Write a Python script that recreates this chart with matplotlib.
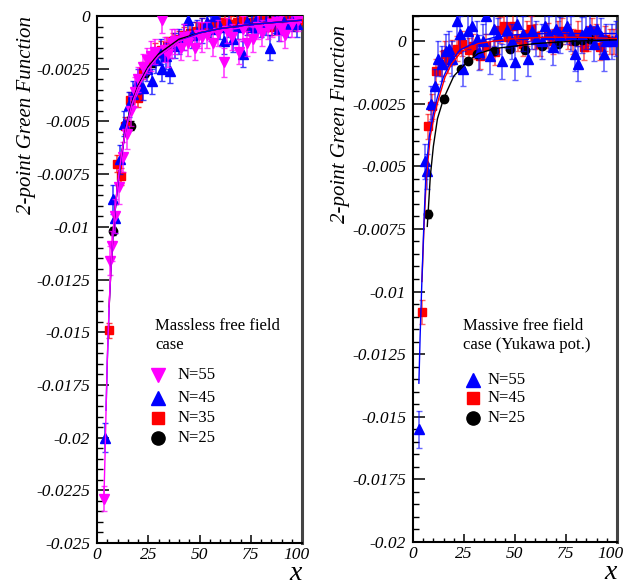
import matplotlib
matplotlib.use('Agg')
import matplotlib.pyplot as plt
import matplotlib.transforms as mtransforms
from matplotlib.ticker import MultipleLocator, FuncFormatter

plt.rcParams['font.family'] = ['Liberation Serif', 'DejaVu Serif']

# ---------------- Left panel: massless free field ----------------
x_l55 = [3.6, 6.3, 7.5, 9.0, 10.7, 12.5, 14.6, 16.6, 18.5, 20.0, 22.4, 24.4, 26.5, 28.5, 31.5,
         33.0, 34.6, 36.5, 38.0, 41.0, 42.5, 44.5, 47.8, 49.5, 51.0, 53.5, 56.6, 59.0, 61.8, 63.5,
         65.7, 69.3, 71.0, 73.0, 76.2, 78.5, 80.3, 83.5, 85.5, 87.6, 89.5, 91.7, 95.0, 98.0]
y_l55 = [-0.0229, -0.0116, -0.0109, -0.0095, -0.0081, -0.0067, -0.0056, -0.0045, -0.0036, -0.0030,
         -0.0024, -0.0021, -0.0019, -0.0017, -0.0002, -0.0016, -0.0018, -0.0013, -0.0012, -0.0015,
         -0.0010, -0.0013, -0.0015, -0.0009, -0.0010, -0.0009, -0.0013, -0.0008, -0.0022, -0.0007,
         -0.0010, -0.0017, -0.0006, -0.0013, -0.0011, -0.0005, -0.0008, -0.0005, -0.0004, -0.0003,
         -0.0006, -0.0009, -0.0004, -0.0002]
e_l55 = [0.0006, 0.0007, 0.0007, 0.0008, 0.0008, 0.0007, 0.0007, 0.0007, 0.0007, 0.0006,
         0.0006, 0.0006, 0.0007, 0.0006, 0.0006, 0.0006, 0.0006, 0.0007, 0.0006, 0.0006,
         0.0006, 0.0006, 0.0006, 0.0006, 0.0007, 0.0006, 0.0006, 0.0006, 0.0007, 0.0006,
         0.0006, 0.0006, 0.0006, 0.0006, 0.0006, 0.0006, 0.0006, 0.0006, 0.0006, 0.0006,
         0.0006, 0.0006, 0.0006, 0.0005]

x_l45 = [3.9, 7.6, 8.8, 11.0, 13.2, 15.5, 17.7, 20.0, 22.4, 24.5, 26.7, 28.9, 31.0, 31.5, 33.5,
         35.8, 38.0, 40.0, 42.2, 44.4, 46.5, 48.8, 51.0, 53.5, 55.5, 57.6, 60.0, 62.0, 64.4, 66.5,
         68.8, 71.0, 73.2, 75.5, 77.7, 80.0, 82.2, 84.4, 86.6, 88.8, 91.0, 93.2, 95.5, 97.7]
y_l45 = [-0.0200, -0.0087, -0.0096, -0.0068, -0.0051, -0.0042, -0.0037, -0.0031, -0.0034, -0.0025,
         -0.0031, -0.0021, -0.0017, -0.0025, -0.0019, -0.0026, -0.0014, -0.0012, -0.0010, -0.0002,
         -0.0009, -0.0008, -0.0007, -0.0003, -0.0006, 0.0000, -0.0005, -0.0012, -0.0004, -0.0011,
         -0.0005, -0.0018, -0.0003, -0.0005, -0.0002, -0.0004, -0.0003, -0.0015, -0.0002, -0.0006,
         -0.0003, -0.0004, -0.0001, -0.0004]
e_l45 = [0.00068, 0.0007, 0.0007, 0.0007, 0.0006, 0.0006, 0.0006, 0.0006, 0.0006, 0.0006,
         0.0006, 0.0006, 0.0006, 0.0006, 0.0006, 0.0006, 0.0006, 0.0006, 0.0006, 0.0006,
         0.0006, 0.0006, 0.0006, 0.0006, 0.0006, 0.0006, 0.0006, 0.0006, 0.0006, 0.0006,
         0.0006, 0.0006, 0.0006, 0.0006, 0.0006, 0.0006, 0.0006, 0.0006, 0.0006, 0.0006,
         0.0006, 0.0006, 0.0006, 0.0006]

x_l35 = [5.9, 9.6, 11.6, 13.5, 16.2, 19.8, 22.6, 25.5, 28.3, 31.2, 34.0, 37.0, 39.8, 42.6, 45.4,
         48.3, 51.2, 54.0, 56.8, 59.6, 62.5, 65.4, 68.2, 71.0, 73.8, 76.7, 79.5, 82.3, 85.2, 88.0,
         90.8, 93.7, 96.5, 99.4]
y_l35 = [-0.0149, -0.0070, -0.0076, -0.0052, -0.0040, -0.0039, -0.0026, -0.0021, -0.0017, -0.0016,
         -0.0014, -0.0012, -0.0011, -0.0009, -0.0008, -0.0007, -0.0005, -0.0006, -0.0004, -0.0003,
         -0.0003, -0.0004, -0.0003, -0.0002, -0.0005, -0.0003, -0.0001, -0.0003, -0.0005, -0.0002,
         -0.0004, -0.0002, -0.0003, -0.0002]
e_l35 = [0.00036, 0.0004, 0.0004, 0.0004, 0.0004, 0.0004, 0.0004, 0.0004, 0.0004, 0.0004,
         0.0004, 0.0004, 0.0004, 0.0004, 0.0004, 0.0004, 0.0004, 0.0004, 0.0004, 0.0004,
         0.0004, 0.0004, 0.0004, 0.0004, 0.0004, 0.0004, 0.0004, 0.0004, 0.0004, 0.0004,
         0.0004, 0.0004, 0.0004, 0.0004]

x_l25 = [7.8, 14.1, 16.4, 19.5, 23.4, 27.5, 31.5, 35.5, 39.5, 43.5, 47.5, 51.5, 55.5, 59.5, 63.5,
         67.5, 71.5, 75.5, 79.5, 83.5, 87.5, 91.5, 95.5, 99.5]
y_l25 = [-0.0102, -0.0051, -0.0052, -0.0036, -0.0027, -0.0022, -0.0017, -0.0014, -0.0012, -0.0010,
         -0.0008, -0.0007, -0.0005, -0.0005, -0.0004, -0.0004, -0.0003, -0.0003, -0.0003, -0.0002,
         -0.0002, -0.0002, -0.0001, -0.0001]
e_l25 = [0.0002, 0.0002, 0.0002, 0.0002, 0.0002, 0.0002, 0.0002, 0.0002, 0.0002, 0.0002,
         0.0002, 0.0002, 0.0002, 0.0002, 0.0002, 0.0002, 0.0002, 0.0002, 0.0002, 0.0002,
         0.0002, 0.0002, 0.0002, 0.0002]

# fitted curves
cx_l55 = [3.3, 4.0, 4.4, 5.0, 6.0, 7.0, 8.0, 10, 12, 14, 17, 20, 25, 30, 40, 50, 60, 75, 100]
cy_l55 = [-0.0231, -0.0205, -0.0187, -0.0163, -0.0135, -0.0115, -0.0100, -0.0080, -0.0065, -0.0054,
          -0.0042, -0.0034, -0.0025, -0.0019, -0.0012, -0.0009, -0.0007, -0.0005, -0.0003]
cx_l45 = [4.4, 5.0, 6.0, 7.0, 8.0, 10, 12, 14, 17, 20, 25, 30, 40, 50, 60, 75, 100]
cy_l45 = [-0.0187, -0.0164, -0.0136, -0.0116, -0.0101, -0.0081, -0.0066, -0.0054, -0.0042, -0.0034,
          -0.0025, -0.0019, -0.0012, -0.0008, -0.0006, -0.0004, -0.0002]
cx_l35 = [5.9, 7.0, 8.0, 10, 12, 14, 17, 20, 25, 30, 40, 50, 60, 75, 100]
cy_l35 = [-0.0138, -0.0116, -0.0101, -0.0080, -0.0066, -0.0054, -0.0042, -0.0034, -0.0025, -0.0019,
          -0.0012, -0.0008, -0.0006, -0.0004, -0.0002]
cx_l25 = [7.8, 10, 12, 14, 17, 20, 25, 30, 40, 50, 60, 75, 100]
cy_l25 = [-0.0103, -0.0080, -0.0065, -0.0053, -0.0041, -0.0033, -0.0024, -0.0018, -0.0011, -0.0008,
          -0.0006, -0.0004, -0.0002]

# ---------------- Right panel: massive free field ----------------
x_r55 = [2.9, 5.9, 6.9, 8.6, 10.6, 12.5, 14.2, 16.0, 17.6, 19.3, 21.5, 23.0, 24.5, 27.0, 29.0,
         31.3, 32.4, 34.5, 36.0, 37.7, 39.5, 41.5, 43.6, 46.0, 48.5, 50.0, 51.0, 54.0, 56.4, 58.3,
         60.5, 63.0, 64.7, 66.5, 68.6, 70.0, 72.0, 75.5, 77.5, 79.5, 81.0, 83.0, 85.0, 87.0, 88.5,
         90.0, 92.0, 93.6, 94.6, 97.5, 99.5]
y_r55 = [-0.0155, -0.0048, -0.0052, -0.0025, -0.0018, -0.0007, -0.0009, -0.0004, -0.0003, -0.0007,
         0.0008, 0.0003, -0.0011, 0.0004, 0.0006, 0.0001, -0.00044, 0.0000, 0.0010, -0.0006,
         0.0005, 0.0002, -0.0008, 0.00044, 0.0000, -0.00084, 0.0007, 0.0003, -0.0007, 0.0004,
         0.0001, 0.0000, 0.0006, 0.0003, -0.00024, 0.0005, 0.00024, 0.0006, 0.0003, -0.0005,
         -0.0009, 0.00024, 0.0004, 0.0005, -0.0001, 0.0005, 0.0002, -0.0005, 0.0000, 0.0000,
         0.0001]
e_r55 = [0.00075, 0.0007, 0.0007, 0.0007, 0.0007, 0.0007, 0.0007, 0.0007, 0.0007, 0.0007,
         0.0007, 0.0007, 0.0007, 0.0007, 0.0007, 0.0007, 0.0007, 0.0007, 0.0007, 0.0007,
         0.0007, 0.0007, 0.0007, 0.0007, 0.0007, 0.0007, 0.0007, 0.0007, 0.0007, 0.0007,
         0.0007, 0.0007, 0.0007, 0.0007, 0.0007, 0.0007, 0.0007, 0.0007, 0.0007, 0.0007,
         0.0007, 0.0007, 0.0007, 0.0007, 0.0007, 0.0007, 0.0007, 0.0007, 0.0007, 0.0007,
         0.0007]

x_r45 = [4.4, 7.4, 9.3, 11.5, 14.2, 15.7, 17.0, 19.0, 21.5, 24.0, 27.5, 29.5, 33.0, 36.0, 40.0,
         42.6, 44.5, 46.6, 49.0, 51.5, 54.0, 56.0, 58.0, 60.0, 62.5, 66.0, 68.5, 71.0, 73.0, 76.0,
         78.5, 81.0, 84.0, 86.0, 87.7, 89.5, 91.7, 94.0, 96.6, 98.5]
y_r45 = [-0.0108, -0.0034, -0.0026, -0.0012, -0.0009, -0.0005, -0.00076, -0.00044, -0.0003, -0.0001,
         -0.00036, -0.0002, -0.0006, -0.0002, -0.00044, 0.00044, 0.0006, 0.00016, 0.0006, 0.0001,
         -0.0001, 0.0003, 0.0005, 0.0002, -0.0001, 0.00024, 0.0000, 0.0003, 0.0004, 0.0002,
         0.0000, 0.0003, -0.00024, 0.0001, 0.0004, 0.0002, -0.00024, 0.0001, 0.0000, 0.0000]
e_r45 = [0.00048, 0.0005, 0.0005, 0.0005, 0.0005, 0.0005, 0.0005, 0.0005, 0.0005, 0.0005,
         0.0005, 0.0005, 0.0005, 0.0005, 0.0005, 0.0005, 0.0005, 0.0005, 0.0005, 0.0005,
         0.0005, 0.0005, 0.0005, 0.0005, 0.0005, 0.0005, 0.0005, 0.0005, 0.0005, 0.0005,
         0.0005, 0.0005, 0.0005, 0.0005, 0.0005, 0.0005, 0.0005, 0.0005, 0.0005, 0.0005]

x_r25 = [7.4, 15.0, 23.5, 27.0, 31.5, 39.5, 47.5, 55.0, 63.0, 71.0, 79.5, 83.0, 87.0, 95.0]
y_r25 = [-0.0069, -0.0023, -0.0011, -0.0008, -0.0005, -0.0004, -0.0003, -0.00036, -0.0002, -0.0001,
         0.0000, 0.00004, 0.0001, 0.0000]
e_r25 = [0.00015, 0.00015, 0.00012, 0.00012, 0.00012, 0.00012, 0.00012, 0.00012, 0.00012, 0.00012,
         0.00012, 0.00012, 0.00012, 0.00012]

cx_r55 = [2.9, 3.5, 4.4, 5.4, 6.4, 8, 10, 11.8, 14.9, 18, 23, 31, 40, 50, 65, 80, 100]
cy_r55 = [-0.01366, -0.0118, -0.0095, -0.0072, -0.0052, -0.0038, -0.0029, -0.0023, -0.00144, -0.0009,
          -0.00036, -0.00004, 0.00015, 0.00025, 0.0003, 0.0003, 0.0003]
cx_r45 = [4.4, 5.4, 6.6, 8.5, 10.6, 12.6, 15.7, 19, 24, 32, 40, 50, 65, 80, 100]
cy_r45 = [-0.0096, -0.0074, -0.0054, -0.0038, -0.0029, -0.0023, -0.00144, -0.0009, -0.0004, -0.0001,
          0.0000, 0.0001, 0.00015, 0.00015, 0.0001]
cx_r25 = [7.0, 7.4, 8.5, 10, 12, 15, 20, 23.5, 27, 32, 40, 50, 60, 80, 100]
cy_r25 = [-0.0074, -0.0069, -0.0054, -0.0042, -0.0031, -0.0023, -0.0014, -0.0011, -0.0008, -0.0005,
          -0.0003, -0.0002, -0.0001, 0.0000, 0.00005]

x_ticks = [0, 25, 50, 75, 100]
x_tick_labels = ['0', '25', '50', '75', '100']

MAGENTA = '#ff00ff'
BLUE = '#0000ff'
RED = '#ff0000'
BLACK = '#000000'

fig = plt.figure(figsize=(6.26, 5.88), dpi=100)
axL = fig.add_axes([0.155, 0.0765, 0.3275, 0.8963])
axR = fig.add_axes([0.6597, 0.0782, 0.3259, 0.8946])


def series(ax, x, y, e, color, marker, ms, z, bar_alpha=0.75):
    line, caps, bars = ax.errorbar(x, y, yerr=e, fmt=marker, color=color, ms=ms, mec=color,
                                   ecolor=color, elinewidth=1.2, capsize=2.5, capthick=1.0,
                                   zorder=z)
    for c in caps:
        c.set_alpha(bar_alpha)
    for b in bars:
        b.set_alpha(bar_alpha)


def fmt(v, pos):
    v = round(v, 6)
    if abs(v) < 1e-12:
        return '0'
    return '%g' % v


def style(ax, ylim, ytext, ylab_y):
    ax.set_xlim(0, 100)
    ax.set_ylim(*ylim)
    ax.set_xticks(x_ticks)
    ax.set_xticklabels(x_tick_labels, fontstyle='italic')
    ax.xaxis.set_minor_locator(MultipleLocator(5))
    ax.yaxis.set_major_locator(MultipleLocator(0.0025))
    ax.yaxis.set_minor_locator(MultipleLocator(0.0005))
    ax.yaxis.set_major_formatter(FuncFormatter(fmt))
    ax.tick_params(axis='y', which='major', direction='in', length=8.5, width=1.1,
                   labelsize=12.5, pad=5, right=False)
    ax.tick_params(axis='y', which='minor', direction='in', length=4.5, width=1.0, right=False)
    ax.tick_params(axis='x', which='major', direction='in', length=6, width=1.1,
                   labelsize=12.5, pad=3, top=False)
    ax.tick_params(axis='x', which='minor', direction='in', length=3, width=1.0, top=False)
    for s in ['left', 'bottom', 'top']:
        ax.spines[s].set_linewidth(1.5)
        ax.spines[s].set_color('black')
    ax.spines['right'].set_linewidth(2.2)
    ax.spines['right'].set_color('#444444')
    ax.set_ylabel(ytext, fontsize=15, fontstyle='italic', loc='top')
    ax.yaxis.set_label_coords(ylab_y[0], ylab_y[1])
    ax.set_xlabel('x', fontsize=20, fontstyle='italic', loc='right')
    ax.xaxis.set_label_coords(1.0, -0.034)


# Left panel
series(axL, x_l25, y_l25, e_l25, BLACK, 'o', 6.0, 3, 1.0)
series(axL, x_l35, y_l35, e_l35, RED, 's', 6.0, 4)
series(axL, x_l45, y_l45, e_l45, BLUE, '^', 6.5, 5)
series(axL, x_l55, y_l55, e_l55, MAGENTA, 'v', 6.5, 6)
axL.plot(cx_l25, cy_l25, color=BLACK, lw=1.0, zorder=7)
axL.plot(cx_l35, cy_l35, color=RED, lw=1.0, zorder=7)
axL.plot(cx_l45, cy_l45, color=BLUE, lw=1.0, zorder=7)
axL.plot(cx_l55, cy_l55, color=MAGENTA, lw=1.0, zorder=7)
style(axL, (-0.025, 0.0), '2-point Green Function', (-0.298, 1.0))

# Right panel
series(axR, x_r45, y_r45, e_r45, RED, 's', 6.0, 3, 0.6)
series(axR, x_r25, y_r25, e_r25, BLACK, 'o', 6.0, 4, 1.0)
series(axR, x_r55, y_r55, e_r55, BLUE, '^', 6.5, 5, 0.6)
axR.plot(cx_r25, cy_r25, color=BLACK, lw=1.0, zorder=7)
axR.plot(cx_r45, cy_r45, color=RED, lw=1.0, zorder=7)
axR.plot(cx_r55, cy_r55, color=BLUE, lw=1.0, zorder=7)
style(axR, (-0.02, 0.001), '2-point Green Function', (-0.309, 0.983))

# legends (drawn by hand, ROOT style)
leg_L = [('N=55', MAGENTA, 'v', 10), ('N=45', BLUE, '^', 10), ('N=35', RED, 's', 9),
         ('N=25', BLACK, 'o', 9.5)]
leg_L_y = [0.319, 0.275, 0.237, 0.199]
axL.text(0.283, 0.427, 'Massless free field\ncase', transform=axL.transAxes, fontsize=12,
         va='top', ha='left', linespacing=1.25)
for (lab, c, m, ms), yy in zip(leg_L, leg_L_y):
    axL.plot([0.298], [yy], marker=m, color=c, ms=ms, transform=axL.transAxes, clip_on=False,
             ls='none')
    axL.text(0.395, yy, lab, transform=axL.transAxes, fontsize=12, va='center', ha='left')

leg_R = [('N=55', BLUE, '^', 10), ('N=45', RED, 's', 9), ('N=25', BLACK, 'o', 9.5)]
leg_R_y = [0.308, 0.274, 0.236]
axR.text(0.245, 0.426, 'Massive free field\ncase (Yukawa pot.)', transform=axR.transAxes,
         fontsize=12, va='top', ha='left', linespacing=1.25)
for (lab, c, m, ms), yy in zip(leg_R, leg_R_y):
    axR.plot([0.294], [yy], marker=m, color=c, ms=ms, transform=axR.transAxes, clip_on=False,
             ls='none')
    axR.text(0.363, yy, lab, transform=axR.transAxes, fontsize=12, va='center', ha='left')

fig.canvas.draw()
shift = mtransforms.ScaledTranslation(-6 / 100.0, 0, fig.dpi_scale_trans)
for ax in (axL, axR):
    for t in ax.get_yticklabels():
        t.set_fontstyle('italic')
    for t in ax.xaxis.get_majorticklabels():
        t.set_fontstyle('italic')
        if t.get_text() == '100':
            t.set_transform(t.get_transform() + shift)

fig.savefig('out.png', dpi=100)
